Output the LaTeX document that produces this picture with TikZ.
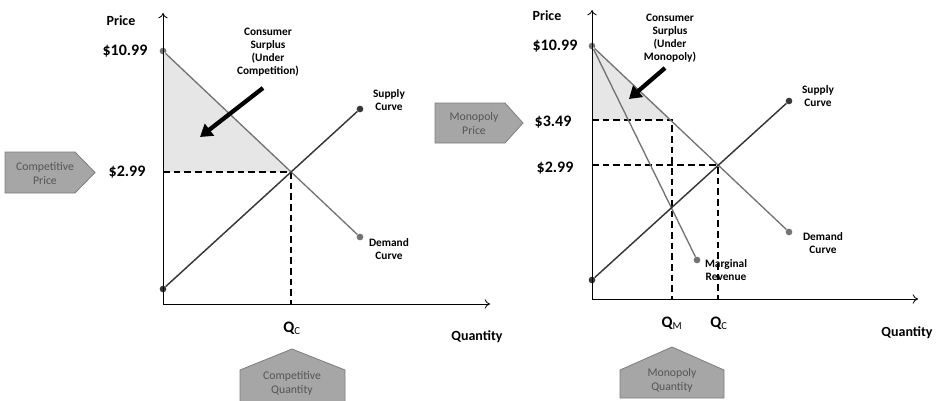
\documentclass[tikz,border=0pt]{standalone}
\usepackage{fontspec}
\setmainfont{Carlito}
\usetikzlibrary{arrows.meta, intersections}
\definecolor{demandcolor}{RGB}{115,115,115}
\definecolor{supplycolor}{RGB}{55,55,55}
\definecolor{tagfill}{RGB}{166,166,166}
\definecolor{tagdraw}{RGB}{125,125,125}
\definecolor{tagtext}{RGB}{85,85,85}
\definecolor{surplusfill}{RGB}{230,230,230}

\begin{document}
\begin{tikzpicture}[
    x=0.75pt, y=-0.75pt,
    axis/.style={-{To[length=4pt,width=7pt]}, line width=0.6pt},
    demand/.style={demandcolor, line width=1pt},
    supply/.style={supplycolor, line width=1.1pt},
    guide/.style={line width=1.5pt, dash pattern=on 5pt off 3pt},
    pointer/.style={-{Triangle[length=9pt,width=11pt]}, line width=3.2pt},
    dot/.style={circle, fill=supplycolor, inner sep=0pt, minimum size=5pt},
    graydot/.style={dot, fill=demandcolor},
    axislabel/.style={font=\bfseries\fontsize{10.5}{12}\selectfont},
    qlabel/.style={font=\bfseries\fontsize{12}{14}\selectfont},
    dollar/.style={font=\bfseries\fontsize{12}{14}\selectfont},
    curvelabel/.style={font=\bfseries\fontsize{8.5}{9.8}\selectfont, align=center, inner sep=0pt},
    tagshape/.style={draw=tagdraw, fill=tagfill, line width=0.6pt},
    tag/.style={text=tagtext, align=center, font=\fontsize{8.8}{10.5}\selectfont, inner sep=0pt}
]
    \useasboundingbox (0,0) rectangle (942,400);

    % ---------- Competition ----------
    \coordinate (Lo) at (163,304);
    \coordinate (Lytop) at (163,13);
    \coordinate (Lxend) at (490,304);
    \node[graydot] (Ld1) at (163,51) {};
    \node[graydot] (Ld2) at (360,237) {};
    \node[dot] (Ls1) at (163,289) {};
    \node[dot] (Ls2) at (360,109) {};
    \path[name path=Ldemand] (Ld1.center) -- (Ld2.center);
    \path[name path=Lsupply] (Ls1.center) -- (Ls2.center);
    \path[name intersections={of=Ldemand and Lsupply, by=Le}];

    % surplus
    \fill[surplusfill] (Ld1.center) -- (Le -| Lo) -- (Le) -- cycle;

    \draw[axis] (Lo) -- (Lytop);
    \draw[axis] (Lo) -- (Lxend);
    \draw[guide] (Le -| Lo) -- (Le) -- (Le |- Lo);
    \draw[demand] (Ld1) -- (Ld2);
    \draw[supply] (Ls1) -- (Ls2);

    \coordinate (Lar1) at (263,88);
    \coordinate (Lar2) at (200,137);
    \draw[pointer] (Lar1) -- (Lar2);

    \node[axislabel] (Lprice) at (121,21) {Price};
    \node[dollar] (Lhigh) at (125,51) {\$10.99};
    \node[dollar] (Lcomp) at (127,172) {\$2.99};
    \node[curvelabel] (Lcs) at (268,52) {Consumer\\Surplus\\(Under\\Competition)};
    \node[curvelabel] (Lsuplbl) at (389,100) {Supply\\Curve};
    \node[curvelabel] (Ldemlbl) at (389,249) {Demand\\Curve};
    \node[qlabel] (Lqc) at (292,328) {Q\textsubscript{\mdseries C}};
    \node[axislabel] (Lqty) at (477,337) {Quantity};

    % tags
    \draw[tagshape] (5,152) -- (75,152) -- (95,172.5) -- (75,193) -- (5,193) -- cycle;
    \node[tag] (Ltagp) at (45,173) {Competitive\\Price};
    \draw[tagshape] (240,402) -- (240,370) -- (292,349) -- (345,370) -- (345,402);
    \node[tag] (Ltagq) at (292,383) {Competitive\\Quantity};

    % ---------- Monopoly ----------
    \coordinate (Ro) at (592,299);
    \coordinate (Rytop) at (592,10);
    \coordinate (Rxend) at (918,299);
    \node[graydot] (Rd1) at (592,46) {};
    \node[graydot] (Rd2) at (789,232) {};
    \node[dot] (Rs1) at (592,280) {};
    \node[dot] (Rs2) at (789,101) {};
    \node[graydot] (Rmr) at (697,260) {};
    \path[name path=Rdemand] (Rd1.center) -- (Rd2.center);
    \path[name path=Rsupply] (Rs1.center) -- (Rs2.center);
    \path[name intersections={of=Rdemand and Rsupply, by=Re}];
    \coordinate (Rm) at (672,120);

    % surplus
    \fill[surplusfill] (Rd1.center) -- (Rm -| Ro) -- (Rm) -- cycle;

    \draw[axis] (Ro) -- (Rytop);
    \draw[axis] (Ro) -- (Rxend);
    \draw[guide] (Rm -| Ro) -- (Rm) -- (Rm |- Ro);
    \draw[guide] (Re -| Ro) -- (Re) -- (Re |- Ro);
    \draw[demand] (Rd1) -- (Rd2);
    \draw[demand] (Rd1) -- (Rmr);
    \draw[supply] (Rs1) -- (Rs2);

    \coordinate (Rar1) at (665,68);
    \coordinate (Rar2) at (629,99);
    \draw[pointer] (Rar1) -- (Rar2);

    \node[axislabel] (Rprice) at (547,16) {Price};
    \node[dollar] (Rhigh) at (555,46) {\$10.99};
    \node[dollar] (Rmono) at (553,122) {\$3.49};
    \node[dollar] (Rcomp) at (555,168) {\$2.99};
    \node[curvelabel] (Rcs) at (670,38) {Consumer\\Surplus\\(Under\\Monopoly)};
    \node[curvelabel] (Rsuplbl) at (818,96) {Supply\\Curve};
    \node[curvelabel] (Rdemlbl) at (823,243) {Demand\\Curve};
    \node[curvelabel] (Rmrlbl) at (726,270) {Marginal\\Revenue};
    \node[qlabel] (Rqm) at (672,323) {Q\textsubscript{\mdseries M}};
    \node[qlabel] (Rqc) at (719,323) {Q\textsubscript{\mdseries C}};
    \node[axislabel] (Rqty) at (907,333) {Quantity};

    % tags
    \draw[tagshape] (435,103) -- (505,103) -- (523,123) -- (505,143) -- (435,143) -- cycle;
    \node[tag] (Rtagp) at (474,123) {Monopoly\\Price};
    \draw[tagshape] (620,398) -- (620,370) -- (672,347) -- (724,370) -- (724,398) -- cycle;
    \node[tag] (Rtagq) at (672,380) {Monopoly\\Quantity};
\end{tikzpicture}
\end{document}
